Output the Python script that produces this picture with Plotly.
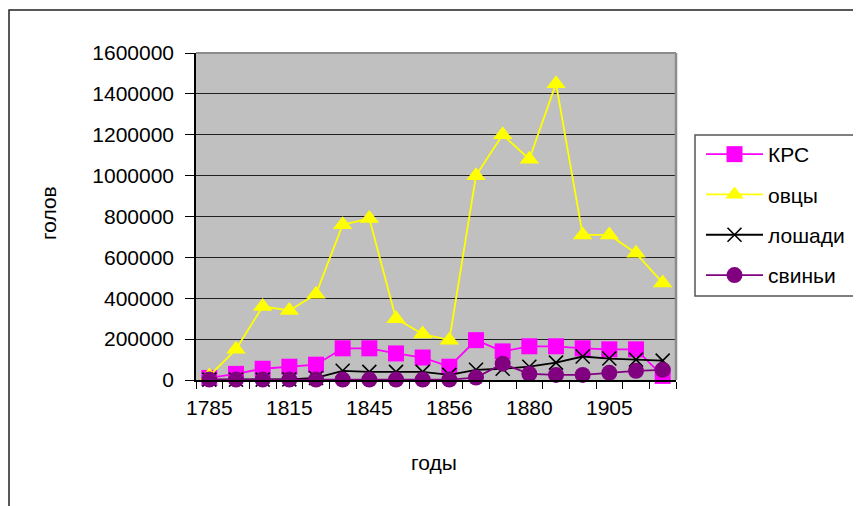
import plotly.graph_objects as go

# 18 categories, labels shown every third category
tick_positions = [0, 3, 6, 9, 12, 15]
tick_labels = ["1785", "1815", "1845", "1856", "1880", "1905"]
categories = list(range(18))

krs = [10000, 30000, 55000, 65000, 75000, 155000, 155000, 130000, 110000, 65000,
       195000, 140000, 165000, 165000, 155000, 150000, 150000, 20000]
ovcy = [20000, 150000, 360000, 340000, 420000, 760000, 790000, 300000, 225000, 195000,
        1000000, 1200000, 1080000, 1450000, 710000, 710000, 620000, 475000]
loshadi = [2000, 2000, 2000, 3000, 10000, 45000, 40000, 40000, 40000, 25000,
           50000, 55000, 65000, 85000, 115000, 105000, 100000, 95000]
svinyi = [2000, 2000, 2000, 2000, 2000, 2000, 2000, 2000, 2000, 2000,
          12000, 80000, 30000, 25000, 25000, 35000, 45000, 50000]

series = [
    ("КРС", krs, "#FF00FF", "square", 16, None),
    ("овцы", ovcy, "#FFFF00", "triangle-up", 17, None),
    ("лошади", loshadi, "#000000", "x-thin-open", 14, 1.6),
    ("свиньи", svinyi, "#800080", "circle", 16, None),
]

fig = go.Figure()
for i, (name, vals, col, sym, sz, lw) in enumerate(series):
    marker = dict(symbol=sym, size=sz, color=col)
    if lw:
        marker["line"] = dict(color=col, width=lw)
    else:
        marker["line"] = dict(width=0)
    fig.add_trace(go.Scatter(
        x=categories, y=vals, name=name, mode="lines+markers",
        line=dict(color=col, width=1.8), marker=marker,
        legendgroup=f"g{i}", cliponaxis=False,
    ))

OFF = 8  # page offset of the figure
L, T, R, B = 196, 53, 676, 380  # plot area in page pixels
W, H = 861, 506
pw, ph = R - L, B - T

def px(x):
    return (x - L) / pw

def py(y):
    return (B - y) / ph

font = "Liberation Sans, Arial, sans-serif"
FS = 21

fig.update_layout(
    width=W, height=H,
    margin=dict(l=L - OFF, r=W + OFF - R, t=T - OFF, b=H + OFF - B, pad=0),
    paper_bgcolor="white", plot_bgcolor="#C0C0C0",
    font=dict(family=font, size=FS, color="black"),
    showlegend=True,
    legend=dict(x=px(701), xanchor="left", y=py(134), yanchor="top",
                font=dict(size=FS), bgcolor="rgba(0,0,0,0)", borderwidth=0,
                tracegroupgap=10, itemwidth=57),
    xaxis=dict(range=[-0.5, 17.5], tickmode="array", tickvals=tick_positions,
               ticktext=tick_labels, ticks="", showgrid=False, zeroline=False,
               showline=True, linecolor="black", linewidth=1.5,
               tickfont=dict(size=FS), ticklabelstandoff=8,
               minor=dict(tickmode="array",
                          tickvals=[c - 0.5 for c in categories] + [17.5],
                          ticks="outside", ticklen=7, tickcolor="black",
                          tickwidth=1, showgrid=False)),
    yaxis=dict(range=[0, 1600000], tickmode="linear", tick0=0, dtick=200000,
               tickformat="d", ticks="outside", ticklen=9, tickcolor="black",
               showgrid=True, gridcolor="#202020", gridwidth=1, zeroline=False,
               showline=True, linecolor="black", linewidth=1.5,
               tickfont=dict(size=FS), ticklabelstandoff=7),
    shapes=[
        # plot area top/right border
        dict(type="line", xref="paper", yref="paper", x0=0, x1=1, y0=1, y1=1,
             line=dict(color="#8C8C8C", width=2)),
        dict(type="line", xref="paper", yref="paper", x0=1, x1=1, y0=0, y1=1,
             line=dict(color="#8C8C8C", width=2.5)),
        # outer chart border
        dict(type="rect", xref="paper", yref="paper",
             x0=px(9), x1=px(900), y0=py(540), y1=py(10),
             line=dict(color="#222222", width=1.5)),
        # legend box
        dict(type="rect", xref="paper", yref="paper",
             x0=px(695), x1=px(900), y0=py(296), y1=py(135),
             line=dict(color="#555555", width=1.5)),
    ],
    annotations=[
        dict(text="голов", xref="paper", yref="paper", x=px(48), y=py(213),
             showarrow=False, textangle=-90, font=dict(size=FS),
             xanchor="center", yanchor="middle"),
        dict(text="годы", xref="paper", yref="paper", x=px(434), y=py(462),
             showarrow=False, font=dict(size=FS),
             xanchor="center", yanchor="middle"),
    ],
)

fig.write_html("out.html")
